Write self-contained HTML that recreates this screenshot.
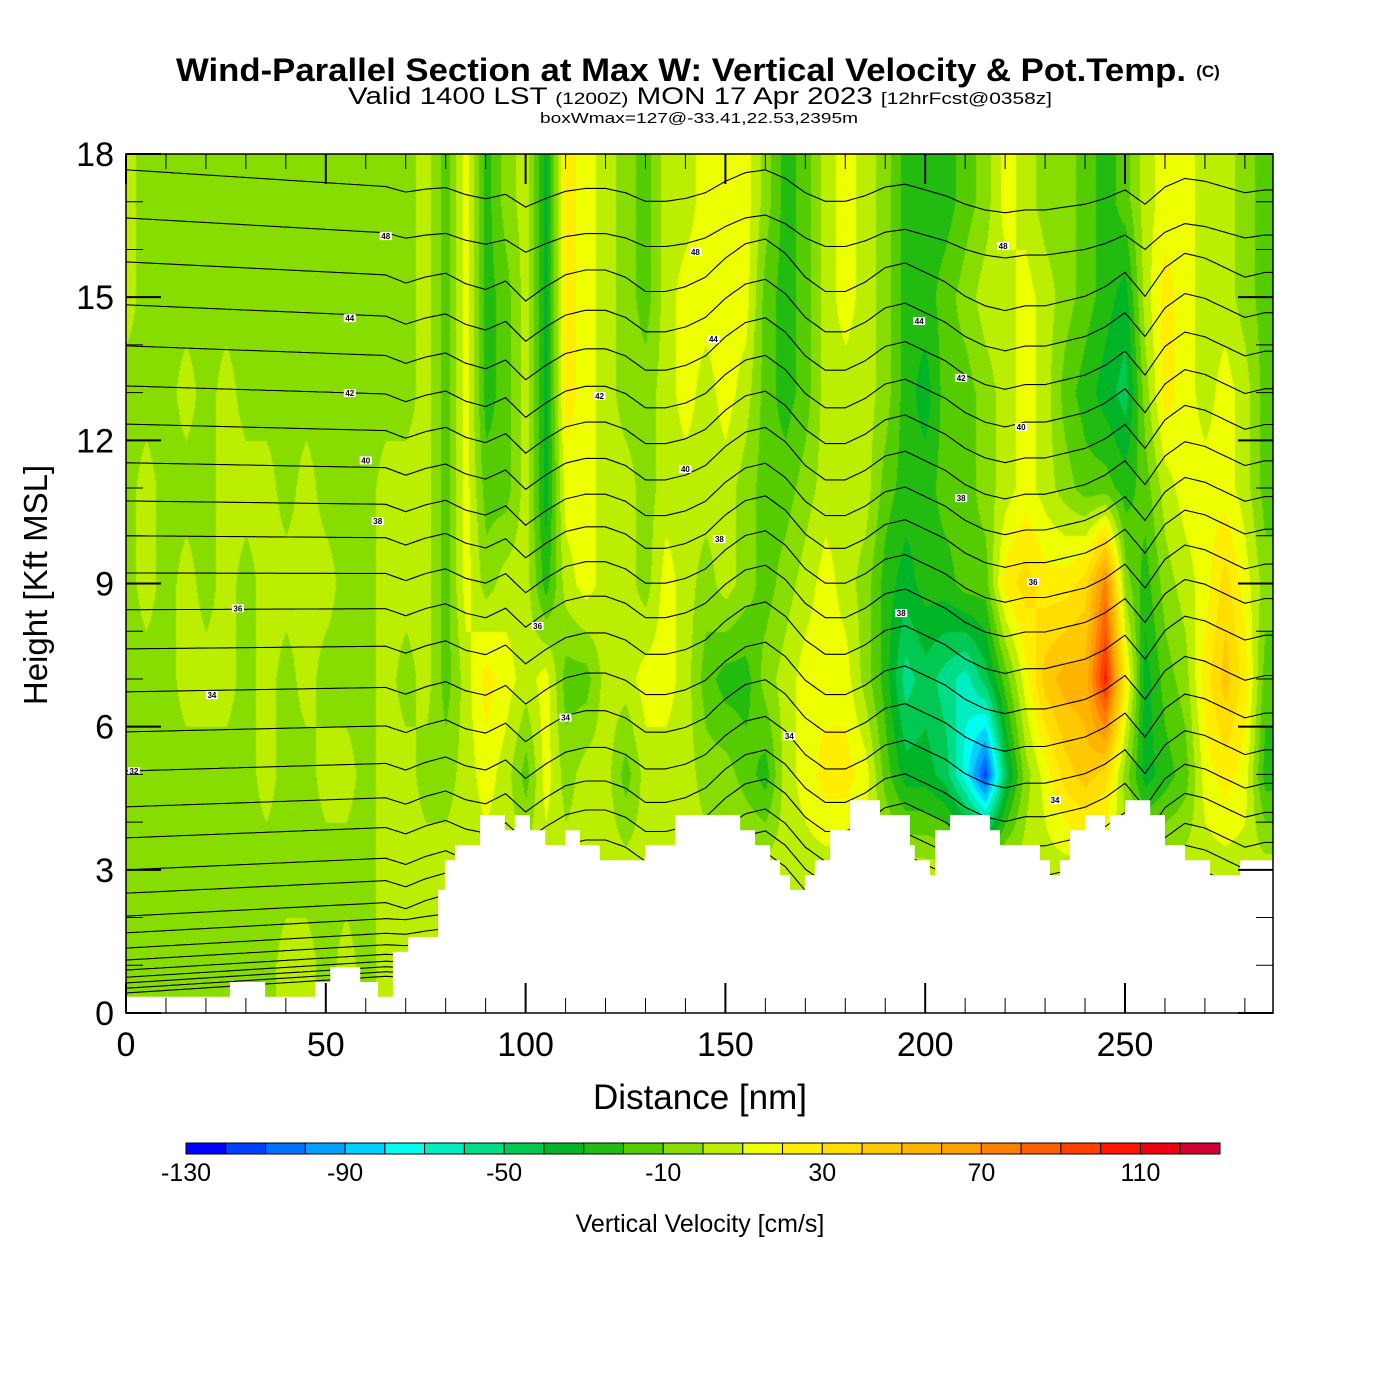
<!DOCTYPE html>
<html><head><meta charset="utf-8"><style>
html,body{margin:0;padding:0;background:#fff;width:1400px;height:1400px;overflow:hidden}
#wrap{position:relative;width:1400px;height:1400px}
#field{position:absolute;left:126px;top:154px}
svg{position:absolute;left:0;top:0}
text{font-family:"Liberation Sans",sans-serif}
</style></head><body>
<div id="wrap">
<canvas id="field" width="1147" height="859"></canvas>
<svg id="svg" width="1400" height="1400">
<defs><clipPath id="clip"><rect x="126" y="154" width="1147" height="859"/></clipPath></defs>
<g id="contours" clip-path="url(#clip)"></g>
<g id="terrain"></g>
<g id="clabels"></g>
<rect x="126" y="154" width="1147" height="859" fill="none" stroke="#000" stroke-width="1.5"/>
<g id="ticks"></g>
<g id="ylabels"></g>
<g id="xlabels"></g>
<text x="681" y="81" text-anchor="middle" font-size="32" font-weight="bold" textLength="1010" lengthAdjust="spacingAndGlyphs">Wind-Parallel Section at Max W: Vertical Velocity &amp; Pot.Temp.</text>
<text x="1208" y="77" text-anchor="middle" font-size="17" font-weight="bold">(C)</text>
<text x="700" y="104" text-anchor="middle" font-size="24" textLength="704" lengthAdjust="spacingAndGlyphs">Valid 1400 LST <tspan font-size="17">(1200Z)</tspan> MON 17 Apr 2023 <tspan font-size="17">[12hrFcst@0358z]</tspan></text>
<text x="699" y="123" text-anchor="middle" font-size="15" textLength="318" lengthAdjust="spacingAndGlyphs">boxWmax=127@-33.41,22.53,2395m</text>
<text x="700" y="1109" text-anchor="middle" font-size="35">Distance [nm]</text>
<text transform="translate(47,585) rotate(-90)" text-anchor="middle" font-size="33">Height [Kft MSL]</text>
<g id="cbar"></g>
<text x="700" y="1232" text-anchor="middle" font-size="25">Vertical Velocity [cm/s]</text>
</svg>
</div>
<script>
// ---- data ----
const colNm = [0,5,10,15,20,25,30,35,40,45,50,55,60,65,70,75,80,85,90,95,100,105,110,115,120,125,130,135,140,145,150,155,160,165,170,175,180,185,190,195,200,205,210,215,220,225,230,235,240,245,250,255,260,265,270,275,280,285];
const rowKft = [17,15,13,11,9,7,5,3,1];
// vertical velocity (cm/s), one array per column, values top (17kft) to bottom (1kft)
const wColumns = [
[5,5,-5,-5,-5,-5,-5,-5,-5],[-5,-5,-5,5,5,-5,-5,-5,-5],[-5,-5,-5,-5,-5,-5,-5,-5,-5],[-5,-5,5,-5,5,5,-5,-5,-5],
[-5,-5,-5,-5,-5,5,-5,-5,-5],[-5,-5,5,5,5,5,-5,-5,-5],[-5,-5,-5,5,-5,-5,-5,-5,-5],[-5,-5,-5,5,5,5,5,-5,-5],
[-5,-5,-5,-5,5,-5,-5,-5,5],[-5,-5,-5,5,5,5,-5,-5,5],[-5,-5,-5,-5,5,-5,5,-5,-5],[-5,-5,-5,-5,-5,-5,5,-5,5],
[-5,-5,-5,-5,-5,-5,-5,-5,-5],[-5,-5,-5,5,5,5,5,5,5],[-5,-5,-5,5,5,-5,5,5,5],[5,5,5,5,5,5,-5,5,5],
[-15,-15,-15,-15,-15,-15,-5,5,5],[15,15,15,15,15,5,5,5,5],[-25,-25,-25,-15,-5,25,15,5,5],[-5,-15,-15,-15,5,15,5,5,5],
[5,5,5,5,5,5,-15,5,5],[-35,-35,-35,-35,-25,15,15,5,5],[25,25,25,15,5,-15,-5,5,5],[15,15,15,15,15,-15,5,5,5],
[5,5,5,5,5,5,5,5,5],[-5,-5,-5,5,5,5,-15,5,5],[-15,-15,-5,-5,-5,15,5,5,5],[5,5,5,5,15,15,5,5,5],
[5,15,15,5,5,5,5,5,5],[15,15,5,5,-5,-15,-5,5,5],[20,15,15,5,5,-25,-5,5,5],[15,15,5,-5,-5,-25,-15,5,5],
[-5,-15,-15,-15,-15,-5,-25,5,5],[-25,-25,-25,-15,-5,5,5,5,5],[-15,-15,-15,-5,5,15,15,5,5],[5,5,5,5,15,15,25,5,5],
[15,15,5,5,5,15,25,5,5],[5,5,5,5,-5,-5,15,5,5],[-5,-5,-5,-15,-25,-25,-15,5,5],[-25,-25,-25,-25,-35,-55,-35,5,5],
[-25,-25,-35,-25,-25,-45,-35,5,5],[-25,-15,-15,-15,-25,-55,-45,5,5],[-15,-5,-15,-15,-15,-65,-75,5,5],[-5,5,-5,-5,-15,-45,-115,5,5],
[15,5,5,5,25,-15,-45,5,5],[5,15,15,15,35,15,-5,5,5],[-5,5,5,5,25,45,15,5,5],[-5,-5,-15,-5,25,55,35,5,5],
[-15,-15,-25,-15,35,55,45,5,5],[-25,-25,-35,-15,75,105,35,5,5],[-15,-35,-45,-25,-5,25,-5,5,5],[5,5,-5,-15,-25,-35,-35,5,5],
[15,25,25,5,-5,-15,-25,5,5],[15,15,15,15,5,-5,-15,5,5],[5,5,5,15,15,25,15,5,5],[5,5,15,15,35,45,25,5,5],
[-5,-5,5,5,15,25,15,5,5],[-15,-15,-15,-15,-5,-15,-25,5,5]
];
const colorBins = ["#0000ff","#0040ff","#0070ff","#00a0ff","#00d0ff","#00ffee","#00eec0","#00dd88","#00c850","#00b428","#22bb10","#55cc00","#88dd00","#bbee00","#eeff00","#ffee00","#ffdd00","#ffc800","#ffb400","#ffa000","#ff8000","#ff6000","#ff4000","#ff1800","#ee0010","#d00030"];
const cbarTicks = [-130,-90,-50,-10,30,70,110];
const terrainNm = [0,26.0,34.8,47.3,51.1,58.6,63.1,66.8,70.6,78.1,79.8,82.3,88.6,94.8,97.3,101.1,104.9,109.9,113.6,118.6,129.9,137.4,153.7,157.4,161.2,163.7,166.2,169.9,172.4,176.2,181.2,188.7,196.2,197.4,201.2,202.5,206.2,216.2,218.7,228.7,231.2,233.7,236.2,240.0,245.0,246.2,250.0,256.3,260.0,265.0,271.3,278.8];
const terrainKft = [0.34,0.65,0.34,0.65,0.96,0.65,0.34,1.28,1.59,2.58,3.2,3.52,4.15,3.83,4.15,3.83,3.52,3.83,3.52,3.2,3.52,4.15,3.83,3.52,3.2,2.89,2.58,2.89,3.2,3.83,4.46,4.15,3.52,3.2,2.89,3.83,4.15,3.83,3.52,3.2,2.89,3.2,3.83,4.15,3.83,4.15,4.46,4.15,3.52,3.2,2.89,3.2];
const thetaBaseKft = [17.67,16.66,15.74,14.84,13.98,13.14,12.34,11.53,10.73,10.0,9.22,8.45,7.63,6.73,5.89,5.07,4.32,3.67,3.0,2.51,2.03,1.68,1.36,1.11,0.9,0.75,0.63,0.52,0.42];
const thetaDispKft = [0,0,0,0,0,0,0,0,0,0,0,0,0,0,-0.15,0,0.1,-0.1,-0.2,0,-0.4,-0.1,0.15,0.25,0.25,0.1,-0.2,-0.2,-0.1,0.1,0.5,0.8,0.9,0.6,0.1,-0.2,-0.2,0,0.3,0.4,0.2,0,-0.3,-0.5,-0.6,-0.5,-0.5,-0.4,-0.3,-0.1,0.2,-0.3,0.3,0.6,0.5,0.3,0.1,0.2];
const labelText = ["48","44","42","40","38","36","34","32","48","44","42","40","38","36","34","34","48","44","42","40","38","36","38","34"];
const labelNm = [65,56,56,60,63,28,21.5,2,142.5,147,118.5,140,148.5,103,110,166,219.5,198.5,209,224,209,227,194,232.5];
const labelKft = [16.28,14.56,12.99,11.58,10.31,8.48,6.66,5.07,15.95,14.12,12.93,11.4,9.93,8.11,6.19,5.8,16.07,14.5,13.31,12.28,10.79,9.03,8.38,4.46];

// ---- axes ----
const X0=126, Y0=154, W=1147, H=859, XMAX=W/3.996, ZMAX=18;
const xs = nm => X0 + nm*3.996;
const ys = z => Y0 + H - z*(H/ZMAX);
const NS="http://www.w3.org/2000/svg";
function mk(tag, attrs, parent){const e=document.createElementNS(NS,tag);for(const k in attrs)e.setAttribute(k,attrs[k]);parent.appendChild(e);return e;}

// ---- field ----
function wAt(nm,z){
  let ci=nm/5; if(ci<0)ci=0; if(ci>colNm.length-1)ci=colNm.length-1;
  const c0=Math.floor(ci), c1=Math.min(c0+1,colNm.length-1), fx=ci-c0;
  let r=(rowKft[0]-z)/2; if(r<0)r=0; if(r>rowKft.length-1)r=rowKft.length-1;
  const r0=Math.floor(r), r1=Math.min(r0+1,rowKft.length-1), fy=r-r0;
  const a=wColumns[c0][r0]*(1-fy)+wColumns[c0][r1]*fy;
  const b=wColumns[c1][r0]*(1-fy)+wColumns[c1][r1]*fy;
  return a*(1-fx)+b*fx;
}
const cv=document.getElementById('field'), ctx=cv.getContext('2d');
const img=ctx.createImageData(W,H);
const rgb=colorBins.map(h=>[parseInt(h.substr(1,2),16),parseInt(h.substr(3,2),16),parseInt(h.substr(5,2),16)]);
for(let py=0;py<H;py++){
  const z=(H-py)*(ZMAX/H);
  for(let px=0;px<W;px++){
    const v=wAt(px/3.996,z);
    let k=Math.floor((v+130)/10); if(k<0)k=0; if(k>25)k=25;
    const o=(py*W+px)*4, c=rgb[k];
    img.data[o]=c[0];img.data[o+1]=c[1];img.data[o+2]=c[2];img.data[o+3]=255;
  }
}
ctx.putImageData(img,0,0);

// ---- theta contours ----
const cg=document.getElementById('contours');
function dispAt(nm){let ci=nm/5; if(ci>thetaDispKft.length-1)ci=thetaDispKft.length-1; const c0=Math.floor(ci),c1=Math.min(c0+1,thetaDispKft.length-1),f=ci-c0; return thetaDispKft[c0]*(1-f)+thetaDispKft[c1]*f;}
thetaBaseKft.forEach((b,i)=>{
  const env = b>16?0.6:(b<2?0.3:1);
  let d="";
  for(let nm=0;nm<=XMAX+1;nm+=1){
    const trend = -0.005*Math.min(nm,100)*(b-9)/8;
    const z=b+trend+dispAt(nm)*env;
    d+=(nm?"L":"M")+xs(nm).toFixed(1)+","+ys(z).toFixed(1);
  }
  const p=mk('path',{d:d,fill:'none',stroke:'#000','stroke-width':'1.1'},cg);
  
  
});

// ---- terrain ----
const tg=document.getElementById('terrain');
let td="M"+xs(0)+","+ys(0);
terrainNm.forEach((n,i)=>{
  const n2=i+1<terrainNm.length?terrainNm[i+1]:XMAX;
  td+="L"+xs(n).toFixed(1)+","+ys(terrainKft[i]).toFixed(1)+"L"+xs(n2).toFixed(1)+","+ys(terrainKft[i]).toFixed(1);
});
td+="L"+xs(XMAX)+","+ys(0)+"Z";
const tp=mk('path',{d:td,fill:'#fff',stroke:'none'},tg);



// ---- contour labels ----
const lg=document.getElementById('clabels');
labelText.forEach((t,i)=>{
  const x=xs(labelNm[i]), y=ys(labelKft[i]);
  const r=mk('rect',{x:x-6,y:y-4,width:12,height:8,fill:'#fff'},lg);
  
  
  const tx=mk('text',{x:x,y:y+3,'text-anchor':'middle','font-size':'8','font-weight':'bold'},lg);
  
  
  tx.textContent=t;
});

// ---- ticks & labels ----
const kg=document.getElementById('ticks');
for(let n=0;n<=280;n+=10){
  const maj=n%50===0, L=maj?30:15, x=xs(n);
  const a=mk('line',{x1:x,x2:x,y1:Y0+H,y2:Y0+H-L,stroke:'#000','stroke-width':maj?2:1},kg);
  
  
  const b=mk('line',{x1:x,x2:x,y1:Y0,y2:Y0+L,stroke:'#000','stroke-width':maj?2:1},kg);
  
  
}
for(let z=0;z<=18;z++){
  const maj=z%3===0, L=maj?35:17, y=ys(z);
  const a=mk('line',{x1:X0,x2:X0+L,y1:y,y2:y,stroke:'#000','stroke-width':maj?2:1},kg);
  
  
  const b=mk('line',{x1:X0+W,x2:X0+W-L,y1:y,y2:y,stroke:'#000','stroke-width':maj?2:1},kg);
  
  
}
const yl=document.getElementById('ylabels');
for(let z=0;z<=18;z+=3){
  const t=mk('text',{x:114,y:ys(z)+12,'text-anchor':'end','font-size':'34'},yl);
  
  
  t.textContent=z;
}
const xl=document.getElementById('xlabels');
for(let n=0;n<=250;n+=50){
  const t=mk('text',{x:xs(n),y:1056,'text-anchor':'middle','font-size':'34'},xl);
  
  
  t.textContent=n;
}

// ---- colorbar ----
const cb=document.getElementById('cbar');
const CBX=186, CBW=1034/26, CBY=1143, CBH=11;
colorBins.forEach((c,i)=>{
  const r=mk('rect',{x:CBX+i*CBW,y:CBY,width:CBW,height:CBH,fill:c,stroke:'#000','stroke-width':'1'},cb);
  
  
});
cbarTicks.forEach(v=>{
  const t=mk('text',{x:CBX+(v+130)/10*CBW,y:1181,'text-anchor':'middle','font-size':'25'},cb);
  
  
  t.textContent=v;
});
</script>
</body></html>
